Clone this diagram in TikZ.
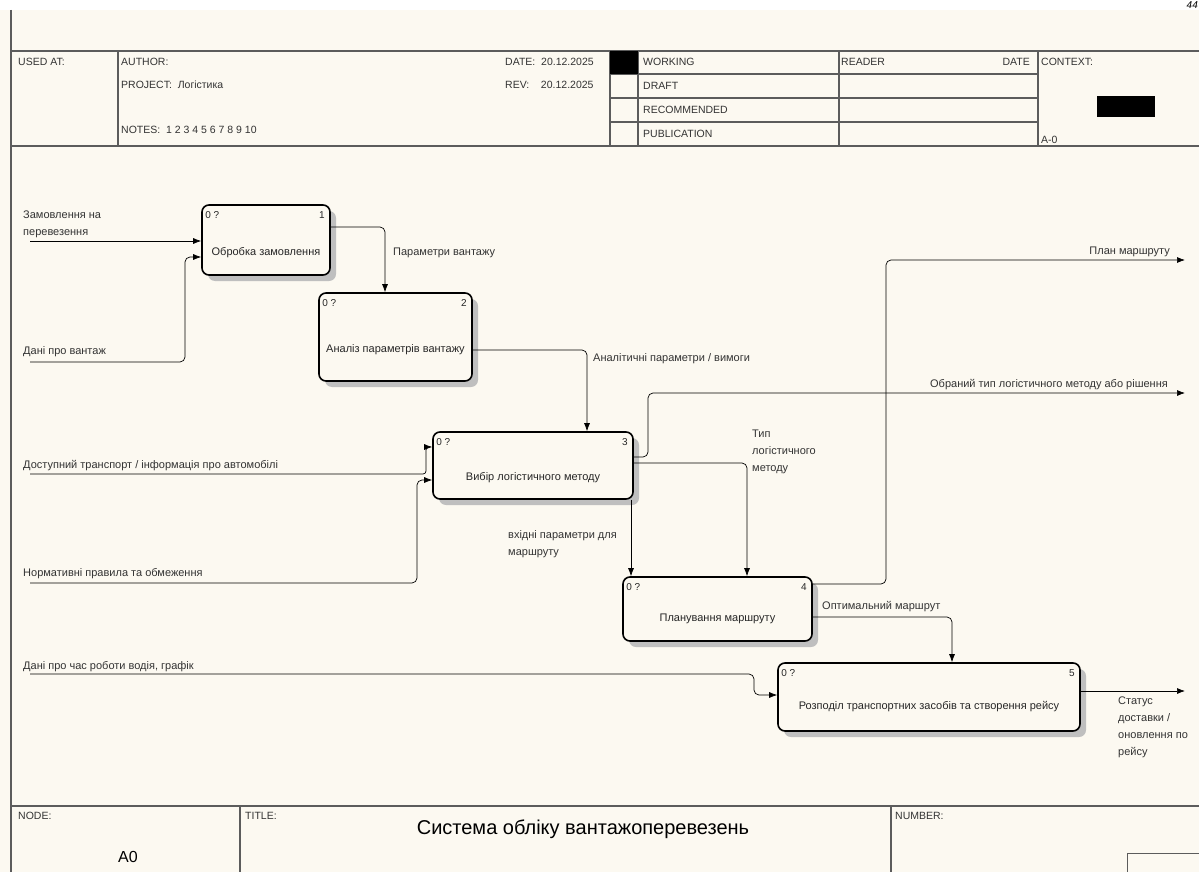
\documentclass[tikz,border=0pt]{standalone}
\usepackage{fontspec}
\setmainfont{Liberation Sans}
\usetikzlibrary{arrows.meta,shadows}
\definecolor{paper}{HTML}{FCF9F1}
\definecolor{frame}{HTML}{5C5C5C}

\begin{document}
\begin{tikzpicture}[x=1pt,y=-1pt,
    procbox/.style={draw, line width=1.6pt, rounded corners=7pt, fill=paper,
      drop shadow={shadow xshift=6pt, shadow yshift=-6pt, fill=gray!50, opacity=1}},
    flow/.style={-{Latex[length=8pt,width=6pt]}, line width=0.7pt, rounded corners=5pt},
    lbl/.style={font=\fontsize{11}{17}\selectfont, align=left, inner sep=0pt, text=black!80},
    hdr/.style={font=\fontsize{10.5}{12}\selectfont, inner sep=0pt, anchor=west, text=black!80},
    boxtext/.style={font=\fontsize{11}{13}\selectfont, inner sep=0pt, text=black!85},
    corner/.style={font=\fontsize{10}{12}\selectfont, inner sep=0pt, text=black!85}]

    % page
    \fill[white] (0,0) rectangle (1199,872);
    \useasboundingbox (0,0) rectangle (1199,872);
    \fill[paper] (0,10) rectangle (1199,872);
    \node[anchor=north east, inner sep=0pt, font=\fontsize{10}{10}\selectfont\itshape] at (1198,1) {44};
    \draw[frame, line width=2pt] (11,10) -- (11,872);

    % header block
    \draw[frame, line width=1.2pt] (11,51) -- (1199,51);
    \draw[frame, line width=1.8pt] (11,146) -- (1199,146);
    \foreach \x in {118,610,638,839,1038}
        \draw[frame, line width=1.2pt] (\x,51) -- (\x,146);
    \foreach \y in {74,98,122}
        \draw[frame, line width=1.2pt] (610,\y) -- (1038,\y);
    \fill[black] (610,51) rectangle (638,74);
    \fill[black] (1097,96) rectangle (1155,117);
    \node[hdr] at (18,62) {USED AT:};
    \node[hdr] at (121,62) {AUTHOR:};
    \node[hdr] at (121,85) {PROJECT:\ \ Логістика};
    \node[hdr] at (121,130) {NOTES:\ \ 1\ 2\ 3\ 4\ 5\ 6\ 7\ 8\ 9\ 10};
    \node[hdr] at (505,62) {DATE:\ \ 20.12.2025};
    \node[hdr] at (505,85) {REV:\ \ \ \ 20.12.2025};
    \node[hdr] at (643,62) {WORKING};
    \node[hdr] at (643,86) {DRAFT};
    \node[hdr] at (643,110) {RECOMMENDED};
    \node[hdr] at (643,134) {PUBLICATION};
    \node[hdr] at (841,62) {READER};
    \node[hdr, anchor=east] at (1030,62) {DATE};
    \node[hdr] at (1041,62) {CONTEXT:};
    \node[hdr] at (1041,140) {A-0};

    % footer block
    \draw[frame, line width=1.8pt] (11,806) -- (1199,806);
    \draw[frame, line width=1.2pt] (240,806) -- (240,872);
    \draw[frame, line width=1.2pt] (891,806) -- (891,872);
    \draw[frame, line width=1pt] (1127,872) -- (1127,853) -- (1199,853);
    \node[hdr] at (18,816) {NODE:};
    \node[hdr] at (245,816) {TITLE:};
    \node[hdr] at (895,816) {NUMBER:};
    \node[inner sep=0pt, font=\fontsize{16}{16}\selectfont] at (128,857) {A0};
    \node[inner sep=0pt, font=\fontsize{20}{20}\selectfont] at (583,829) {Система обліку вантажоперевезень};

    % activity boxes
    \node[procbox, minimum width=128pt, minimum height=70pt] (b1) at (266,240) {};
    \node[procbox, minimum width=153pt, minimum height=88pt] (b2) at (395.5,337) {};
    \node[procbox, minimum width=200pt, minimum height=67pt] (b3) at (533,465.5) {};
    \node[procbox, minimum width=189pt, minimum height=64pt] (b4) at (717.5,609) {};
    \node[procbox, minimum width=302pt, minimum height=68pt] (b5) at (929,697) {};

    \node[boxtext] at ([yshift=-13pt]b1.center) {Обробка замовлення};
    \node[boxtext] at ([yshift=-13pt]b2.center) {Аналіз параметрів вантажу};
    \node[boxtext] at ([yshift=-12pt]b3.center) {Вибір логістичного методу};
    \node[boxtext] at ([yshift=-10pt]b4.center) {Планування маршруту};
    \node[boxtext] at ([yshift=-10pt]b5.center) {Розподіл транспортних засобів та створення рейсу};

    \node[corner, anchor=north west] at ([shift={(4pt,-7pt)}]b1.north west) {0 ?};
    \node[corner, anchor=north east] at ([shift={(-6pt,-7pt)}]b1.north east) {1};
    \node[corner, anchor=north west] at ([shift={(4pt,-7pt)}]b2.north west) {0 ?};
    \node[corner, anchor=north east] at ([shift={(-6pt,-7pt)}]b2.north east) {2};
    \node[corner, anchor=north west] at ([shift={(4pt,-7pt)}]b3.north west) {0 ?};
    \node[corner, anchor=north east] at ([shift={(-6pt,-7pt)}]b3.north east) {3};
    \node[corner, anchor=north west] at ([shift={(4pt,-7pt)}]b4.north west) {0 ?};
    \node[corner, anchor=north east] at ([shift={(-6pt,-7pt)}]b4.north east) {4};
    \node[corner, anchor=north west] at ([shift={(4pt,-7pt)}]b5.north west) {0 ?};
    \node[corner, anchor=north east] at ([shift={(-6pt,-7pt)}]b5.north east) {5};

    % inputs
    \node[lbl, anchor=west] at (23,224) {Замовлення на\\перевезення};
    \coordinate (order) at (30,241);
    \draw[flow] (order) -- (b1.west |- order);

    \node[lbl, anchor=west] at (23,352) {Дані про вантаж};
    \coordinate (cargo) at (30,362);
    \draw[flow] (cargo) -- (185,362) -- (185,257) -- (b1.west |- 0,257);

    \node[lbl, anchor=west] at (23,466) {Доступний транспорт / інформація про автомобілі};
    \coordinate (fleet) at (30,474);
    \draw[flow, rounded corners=3pt] (fleet) -- (426,474) -- (426,447) -- (b3.west |- 0,447);

    \node[lbl, anchor=west] at (23,574) {Нормативні правила та обмеження};
    \coordinate (rules) at (30,583);
    \draw[flow] (rules) -- (417,583) -- (417,480) -- (b3.west |- 0,480);

    \node[lbl, anchor=west] at (23,667) {Дані про час роботи водія, графік};
    \coordinate (driver) at (30,674);
    \draw[flow] (driver) -- (754,674) -- (754,695) -- (b5.west |- 0,695);

    % links between boxes
    \draw[flow] (b1.east |- 0,227) -- (385,227) -- (385,0 |- b2.north);
    \node[lbl, anchor=west] at (393,253) {Параметри вантажу};

    \draw[flow] (b2.east |- 0,350) -- (587,350) -- (587,0 |- b3.north);
    \node[lbl, anchor=west] at (593,359) {Аналітичні параметри / вимоги};

    \draw[flow] (b3.east |- 0,463) -- (747,463) -- (747,0 |- b4.north);
    \node[lbl, anchor=west] at (752,452) {Тип\\логістичного\\методу};

    \draw[flow] (631,0 |- b3.south) -- (631,0 |- b4.north);
    \node[lbl, anchor=west] at (508,544) {вхідні параметри для\\маршруту};

    \draw[flow] (b4.east |- 0,617) -- (952,617) -- (952,0 |- b5.north);
    \node[lbl, anchor=west] at (822,607) {Оптимальний маршрут};

    % outputs
    \coordinate (method) at (1185,393);
    \draw[flow] (b3.east |- 0,457) -- (648,457) -- (648,393) -- (method);
    \node[lbl, anchor=east] at (1168,385) {Обраний тип логістичного методу або рішення};

    \coordinate (plan) at (1185,260);
    \draw[flow] (b4.east |- 0,584) -- (886,584) -- (886,260) -- (plan);
    \node[lbl, anchor=east] at (1170,252) {План маршруту};

    \coordinate (status) at (1185,691);
    \draw[flow] (b5.east |- 0,691) -- (status);
    \node[lbl, anchor=north west] at (1118,697) {Статус\\доставки /\\оновлення по\\рейсу};
\end{tikzpicture}
\end{document}
